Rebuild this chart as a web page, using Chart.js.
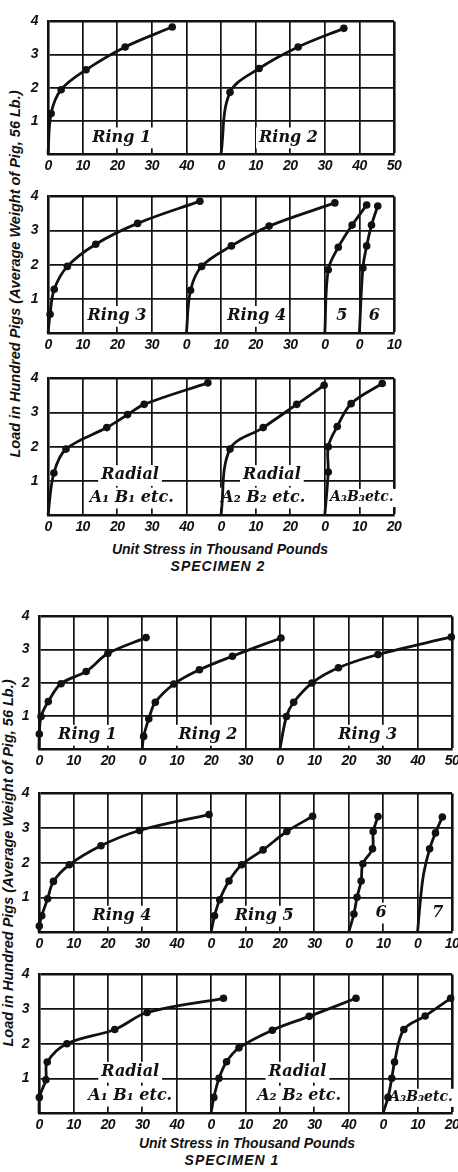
<!DOCTYPE html>
<html>
<head>
<meta charset="utf-8">
<script src="https://cdn.jsdelivr.net/npm/chart.js@4.4.1/dist/chart.umd.min.js"></script>
<style>
  body { margin: 0; background: #fff; }
  #page { position: relative; width: 458px; height: 1172px; overflow: hidden; background: #fff; }
  #page canvas { position: absolute; }
  .txt { position: absolute; white-space: nowrap; color: #111;
         font: italic bold 14px 'Liberation Sans', sans-serif; }
  .ytitle { transform: translate(-50%, -50%) rotate(-90deg); font-size: 14.5px; }
  .xtitle { transform: translate(-50%, -50%); }
</style>
</head>
<body>
<div id="page">
  <div class="txt ytitle" style="left:15px; top:274px;">Load in Hundred Pigs (Average Weight of Pig, 56 Lb.)</div>
  <div class="txt xtitle" style="left:220px; top:549px;">Unit Stress in Thousand Pounds</div>
  <div class="txt xtitle" style="left:218px; top:566px; letter-spacing:1px;">SPECIMEN 2</div>
  <div class="txt ytitle" style="left:8px; top:863px;">Load in Hundred Pigs (Average Weight of Pig, 56 Lb.)</div>
  <div class="txt xtitle" style="left:247px; top:1143px;">Unit Stress in Thousand Pounds</div>
  <div class="txt xtitle" style="left:232px; top:1160px; letter-spacing:1px;">SPECIMEN 1</div>
</div>
<script>
// Load (hundred pigs) vs unit stress (thousand lb), one pair of arrays per curve

// SPECIMEN 2
const s2Ring1X = [0, 0.9, 3.8, 11.0, 22.3, 35.9];
const s2Ring1Y = [0, 1.22, 1.94, 2.54, 3.23, 3.83];
const s2Ring2X = [0, 2.6, 11.0, 22.3, 35.5];
const s2Ring2Y = [0, 1.86, 2.58, 3.23, 3.79];

const s2Ring3X = [0, 0.6, 1.8, 5.6, 13.8, 25.9, 43.9];
const s2Ring3Y = [0, 0.55, 1.28, 1.95, 2.6, 3.21, 3.86];
const s2Ring4X = [0, 1.2, 4.4, 13.0, 23.9, 42.9];
const s2Ring4Y = [0, 1.25, 1.95, 2.55, 3.13, 3.81];
const s2Ring5X = [0, 1.0, 3.9, 7.9, 12.1];
const s2Ring5Y = [0, 1.85, 2.51, 3.16, 3.75];
const s2Ring6X = [0, 1.0, 2.1, 3.5, 5.3];
const s2Ring6Y = [0, 1.9, 2.55, 3.16, 3.72];

const s2RadA1X = [0, 1.7, 5.2, 17.0, 23.0, 27.8, 46.2];
const s2RadA1Y = [0, 1.23, 1.93, 2.56, 2.94, 3.24, 3.87];
const s2RadA2X = [0, 2.6, 12.2, 21.9, 29.8];
const s2RadA2Y = [0, 1.93, 2.56, 3.24, 3.8];
const s2RadA3X = [0, 1.0, 1.0, 3.6, 7.6, 16.6];
const s2RadA3Y = [0, 1.26, 2.0, 2.59, 3.26, 3.85];

// SPECIMEN 1
const s1Ring1X = [0, 0.1, 0.6, 2.7, 6.4, 13.7, 20.0, 31.1];
const s1Ring1Y = [0, 0.45, 0.98, 1.43, 1.97, 2.34, 2.88, 3.36];
const s1Ring2X = [0, 0.4, 1.9, 3.8, 9.2, 16.6, 26.2, 40.3];
const s1Ring2Y = [0, 0.38, 0.91, 1.41, 1.96, 2.39, 2.8, 3.35];
const s1Ring3X = [0, 1.9, 4.0, 9.3, 17.0, 28.5, 49.8];
const s1Ring3Y = [0, 0.98, 1.41, 1.99, 2.45, 2.85, 3.38];

const s1Ring4X = [0, 0.1, 0.8, 2.5, 4.2, 8.8, 18.0, 29.2, 49.4];
const s1Ring4Y = [0, 0.17, 0.47, 0.96, 1.46, 1.94, 2.49, 2.93, 3.39];
const s1Ring5X = [0, 1.0, 2.5, 5.2, 8.9, 15.1, 22.0, 29.5];
const s1Ring5Y = [0, 0.47, 0.93, 1.47, 1.94, 2.37, 2.9, 3.34];
const s1Ring6X = [0, 1.5, 2.4, 3.6, 4.1, 6.9, 7.1, 8.5];
const s1Ring6Y = [0, 0.52, 1.0, 1.47, 1.97, 2.4, 2.9, 3.33];
const s1Ring7X = [0, 0.9, 1.8, 3.5, 5.2, 7.2];
const s1Ring7Y = [0, 1.0, 1.7, 2.4, 2.86, 3.32];
const s1Ring7Bare = [1, 2];   // points on the drawn curve that carry no dot

const s1RadA1X = [0, 0.1, 2.0, 2.4, 8.1, 22.0, 31.4, 53.6];
const s1RadA1Y = [0, 0.45, 0.96, 1.47, 2.0, 2.41, 2.9, 3.31];
const s1RadA2X = [0, 0.8, 2.3, 4.5, 8.1, 17.8, 28.5, 42.1];
const s1RadA2Y = [0, 0.45, 1.0, 1.48, 1.88, 2.39, 2.79, 3.31];
const s1RadA3X = [0, 1.4, 2.5, 3.3, 6.0, 12.2, 19.6];
const s1RadA3Y = [0, 0.45, 1.0, 1.47, 2.41, 2.8, 3.31];

// where each curve's own zero sits on the shared grid (thousand lb)
const s2Row1Origins = [0, 50];
const s2Row2Origins = [0, 40, 80, 90];
const s2Row3Origins = [0, 50, 80];
const s1Row1Origins = [0, 30, 70];
const s1Row2Origins = [0, 50, 90, 110];
const s1Row3Origins = [0, 50, 100];

const loadTicks = [1, 2, 3, 4];

const INK = '#111';
const TICK_FONT = "'Liberation Sans', sans-serif";

// tighter digits, the print uses a condensed face
const tightTicks = {
    id: 'tightTicks',
    beforeDraw(chart) { chart.ctx.letterSpacing = '-0.6px'; }
};

// text written inside the grids, drawn on a white patch
const labelPlugin = {
    id: 'panelLabels',
    beforeDatasetsDraw(chart, args, opts) {
        const ctx = chart.ctx;
        const xs = chart.scales.x, ys = chart.scales.y;
        ctx.save();
        ctx.letterSpacing = '0px';
        ctx.textAlign = 'center';
        ctx.textBaseline = 'middle';
        (opts.items || []).forEach(it => {
            const size = it.size || 16;
            ctx.font = `italic bold ${size}px "DejaVu Serif", serif`;
            const px = xs.getPixelForValue(it.x);
            const py = ys.getPixelForValue(it.y);
            const w = ctx.measureText(it.text).width;
            ctx.fillStyle = '#fff';
            ctx.fillRect(px - w / 2 - 3, py - size * 0.62, w + 6, size * 1.3);
            ctx.fillStyle = INK;
            ctx.fillText(it.text, px, py);
        });
        ctx.restore();
    }
};

// panel layout: chart area [left, top, right, bottom] in page pixels
const panels = [
    { area: [48, 15, 394, 154], max: 100, origins: s2Row1Origins,
      curves: [[s2Ring1X, s2Ring1Y, 0], [s2Ring2X, s2Ring2Y, 1]],
      labels: [{ text: 'Ring 1', x: 21.3, y: 0.5 }, { text: 'Ring 2', x: 69.5, y: 0.5 }] },
    { area: [48, 190, 394, 333], max: 100, origins: s2Row2Origins,
      curves: [[s2Ring3X, s2Ring3Y, 0], [s2Ring4X, s2Ring4Y, 1], [s2Ring5X, s2Ring5Y, 2], [s2Ring6X, s2Ring6Y, 3]],
      labels: [{ text: 'Ring 3', x: 19.9, y: 0.5 }, { text: 'Ring 4', x: 60.3, y: 0.5 },
               { text: '5', x: 84.9, y: 0.5 }, { text: '6', x: 94.3, y: 0.5 }] },
    { area: [48, 372, 394, 515], max: 100, origins: s2Row3Origins,
      curves: [[s2RadA1X, s2RadA1Y, 0], [s2RadA2X, s2RadA2Y, 1], [s2RadA3X, s2RadA3Y, 2]],
      labels: [{ text: 'Radial', x: 23.7, y: 1.17 }, { text: 'A\u2081 B\u2081 etc.', x: 24.2, y: 0.51 },
               { text: 'Radial', x: 64.7, y: 1.17 }, { text: 'A\u2082 B\u2082 etc.', x: 62.2, y: 0.51 },
               { text: 'A\u2083B\u2083etc.', x: 90.7, y: 0.51, size: 14 }] },
    { area: [39, 610, 452, 749], max: 120, origins: s1Row1Origins,
      curves: [[s1Ring1X, s1Ring1Y, 0], [s1Ring2X, s1Ring2Y, 1], [s1Ring3X, s1Ring3Y, 2]],
      labels: [{ text: 'Ring 1', x: 14.1, y: 0.43 }, { text: 'Ring 2', x: 49.1, y: 0.43 },
               { text: 'Ring 3', x: 95.5, y: 0.43 }] },
    { area: [39, 787, 452, 932], max: 120, origins: s1Row2Origins,
      curves: [[s1Ring4X, s1Ring4Y, 0], [s1Ring5X, s1Ring5Y, 1], [s1Ring6X, s1Ring6Y, 2], [s1Ring7X, s1Ring7Y, 3, s1Ring7Bare]],
      labels: [{ text: 'Ring 4', x: 24.1, y: 0.47 }, { text: 'Ring 5', x: 65.4, y: 0.47 },
               { text: '6', x: 99.4, y: 0.56 }, { text: '7', x: 115.9, y: 0.56 }] },
    { area: [39, 968, 452, 1113], max: 120, origins: s1Row3Origins,
      curves: [[s1RadA1X, s1RadA1Y, 0], [s1RadA2X, s1RadA2Y, 1], [s1RadA3X, s1RadA3Y, 2]],
      labels: [{ text: 'Radial', x: 26.5, y: 1.19 }, { text: 'A\u2081 B\u2081 etc.', x: 26.5, y: 0.5 },
               { text: 'Radial', x: 75.1, y: 1.19 }, { text: 'A\u2082 B\u2082 etc.', x: 75.6, y: 0.5 },
               { text: 'A\u2083B\u2083etc.', x: 111.0, y: 0.45, size: 14 }] }
];

const PAD_L = 30, PAD_T = 12, PAD_R = 14, PAD_B = 24;

function buildPanel(p) {
    const [l, t, r, b] = p.area;
    const canvas = document.createElement('canvas');
    canvas.width = (r - l) + PAD_L + PAD_R;
    canvas.height = (b - t) + PAD_T + PAD_B;
    canvas.style.left = (l - PAD_L) + 'px';
    canvas.style.top = (t - PAD_T) + 'px';
    document.getElementById('page').appendChild(canvas);

    const datasets = p.curves.map(([xs, ys, oi, bare]) => {
        const off = p.origins[oi];
        return {
            data: xs.map((x, i) => ({ x: x + off, y: ys[i] })),
            bare: bare || [],
            showLine: true,
            borderColor: INK,
            backgroundColor: INK,
            borderWidth: 2.8,
            tension: 0.35,
            pointRadius: ctx => (ctx.dataIndex === 0 || ctx.dataset.bare.includes(ctx.dataIndex)) ? 0 : 3.8,
            pointBorderWidth: 0,
            clip: false
        };
    });

    const edgeWidth = (maxV) => ctx => (ctx.tick && ctx.tick.value === maxV) ? 2.6 : 1.7;

    new Chart(canvas, {
        type: 'scatter',
        data: { datasets },
        options: {
            responsive: false,
            animation: false,
            events: [],
            layout: { padding: { left: 0, top: PAD_T, right: PAD_R, bottom: 0 } },
            plugins: {
                legend: { display: false },
                tooltip: { enabled: false },
                panelLabels: { items: p.labels }
            },
            scales: {
                x: {
                    type: 'linear', min: 0, max: p.max,
                    afterFit: s => { s.height = PAD_B; },
                    grid: { color: INK, lineWidth: edgeWidth(p.max), drawTicks: false },
                    border: { color: INK, width: 2.6 },
                    ticks: {
                        stepSize: 10, autoSkip: false, maxRotation: 0, padding: 4, color: INK,
                        font: { family: TICK_FONT, size: 14, style: 'italic', weight: 'bold' },
                        callback: v => {
                            let o = 0;
                            p.origins.forEach(oo => { if (v >= oo) o = oo; });
                            return String(Math.round(v - o));
                        }
                    }
                },
                y: {
                    min: 0, max: 4,
                    afterFit: s => { s.width = PAD_L; },
                    grid: { color: INK, lineWidth: edgeWidth(4), drawTicks: false },
                    border: { color: INK, width: 2.6 },
                    ticks: {
                        stepSize: 1, padding: 10, color: INK,
                        font: { family: TICK_FONT, size: 14, style: 'italic', weight: 'bold' },
                        callback: v => loadTicks.includes(v) ? String(v) : ''
                    }
                }
            }
        },
        plugins: [tightTicks, labelPlugin]
    });
}

panels.forEach(buildPanel);
</script>
</body>
</html>
